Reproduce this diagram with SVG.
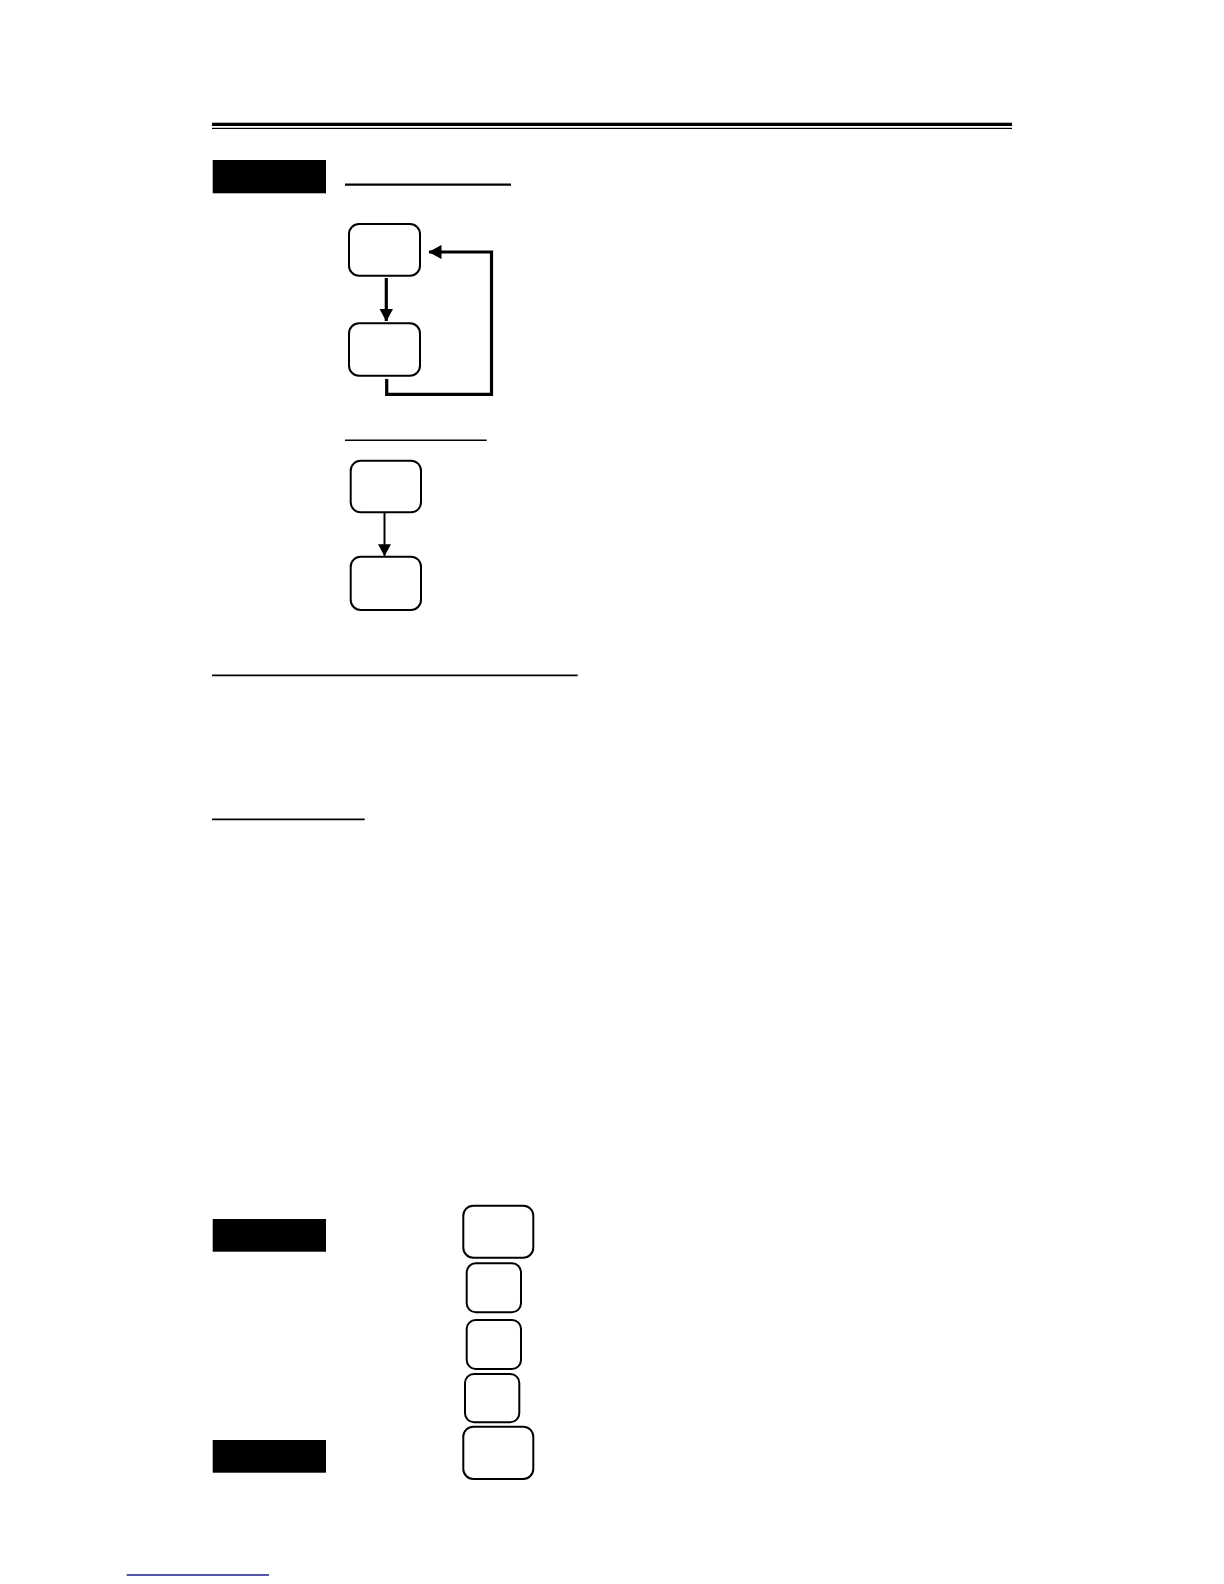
<svg xmlns="http://www.w3.org/2000/svg" width="1224" height="1584" viewBox="0 0 1224 1584">
<style>
.node{fill:#fff;stroke:#000;stroke-width:2}
.blk{fill:#000}
.rule{stroke:#000;fill:none}
.conn{stroke:#000;fill:none;stroke-width:3.2}
.conn2{stroke:#000;fill:none;stroke-width:2}
</style>
<defs>
<marker id="ah2" markerWidth="13" markerHeight="14" refX="12.5" refY="7" orient="auto" markerUnits="userSpaceOnUse" viewBox="0 0 13 14">
<path d="M0,0 L13,7 L0,14 z" fill="#000"/>
</marker>
<marker id="ah3" markerWidth="12" markerHeight="13" refX="11.5" refY="6.5" orient="auto" markerUnits="userSpaceOnUse" viewBox="0 0 12 13">
<path d="M0,0 L12,6.5 L0,13 z" fill="#000"/>
</marker>
</defs>
<rect width="1224" height="1584" fill="#fff"/>
<g id="header">
<rect x="212" y="122.7" width="800" height="3.3" fill="#000"/>
<rect x="212" y="127.8" width="800" height="1.2" fill="#000"/>
</g>
<g id="labels">
<rect class="blk" x="212.7" y="160" width="113.3" height="33.3"/>
<rect class="blk" x="212.7" y="1219" width="113.3" height="32.7"/>
<rect class="blk" x="212.7" y="1440" width="113.3" height="32.7"/>
<line class="rule" x1="345" y1="184.7" x2="511" y2="184.7" stroke-width="2.2"/>
<line class="rule" x1="345" y1="440.3" x2="486.7" y2="440.3" stroke-width="1.5"/>
<line class="rule" x1="212" y1="675.3" x2="577.7" y2="675.3" stroke-width="1.8"/>
<line class="rule" x1="212" y1="819.3" x2="364.7" y2="819.3" stroke-width="1.8"/>
<line x1="126.7" y1="1575" x2="269" y2="1575" stroke="#1c1c8a" stroke-width="1.5"/>
</g>
<g id="nodeA"><rect class="node" x="349" y="224" width="71" height="51.7" rx="10"/></g>
<g id="nodeB"><rect class="node" x="349" y="323.3" width="71" height="52.4" rx="10"/></g>
<g id="nodeC"><rect class="node" x="350.7" y="460.7" width="70.3" height="51.6" rx="10"/></g>
<g id="nodeD"><rect class="node" x="350.7" y="556.7" width="70.3" height="53.3" rx="10"/></g>
<g id="nodeE"><rect class="node" x="463.3" y="1205.7" width="70" height="52" rx="10"/></g>
<g id="nodeF"><rect class="node" x="466.7" y="1263.3" width="54.3" height="49" rx="9"/></g>
<g id="nodeG"><rect class="node" x="466.7" y="1320" width="54.3" height="49" rx="9"/></g>
<g id="nodeH"><rect class="node" x="465" y="1374" width="54.3" height="48.3" rx="9"/></g>
<g id="nodeI"><rect class="node" x="463.3" y="1426.7" width="70" height="52.3" rx="10"/></g>
<g id="connectors">
<line class="conn" x1="386.3" y1="278" x2="386.3" y2="321" marker-end="url(#ah2)"/>
<polyline class="conn" points="386.7,379 386.7,394.3 491.5,394.3 491.5,252 429,252" marker-end="url(#ah2)"/>
<line class="conn2" x1="384.5" y1="512.5" x2="384.5" y2="555.7" marker-end="url(#ah3)"/>
</g>
</svg>
